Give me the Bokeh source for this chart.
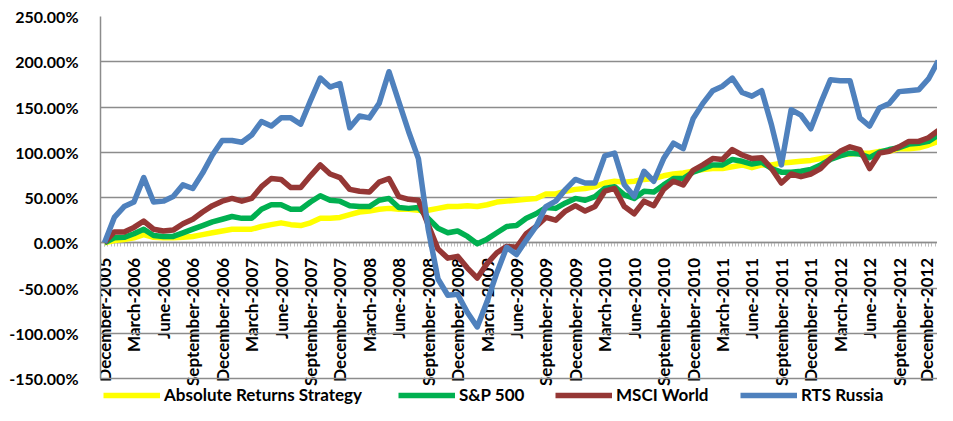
import math
from bokeh.plotting import figure
from bokeh.models import (Range1d, LinearAxis, FixedTicker, PrintfTickFormatter,
                          Legend, LegendItem)
from bokeh.embed import file_html
from bokeh.resources import INLINE

# ---- data (cumulative return, %), monthly Dec-2005 .. Jan-2013 ----
abs_returns = [0, 2.5, 3.5, 5.5, 9, 6, 5.5, 5.5, 6, 7,
               9, 11, 13, 15, 15, 15, 18, 20, 22, 20,
               19, 22, 27, 27, 28, 31, 34, 35, 37, 38,
               37, 37, 36, 36, 38, 40, 40, 41, 40, 42,
               45, 46, 47, 48, 49, 54, 54, 57, 59, 60,
               62, 66, 68, 67, 68, 70, 71, 74, 76, 77,
               79, 81, 82, 82, 84, 86, 83, 86, 86, 88,
               89, 90, 91, 93, 95, 97, 98, 99, 99, 101,
               101, 104, 104, 105, 108, 112]
sp500 = [0, 5.5, 6, 10, 15, 8, 7, 7, 11, 15,
         19, 23, 26, 29, 27, 27, 37, 42, 42, 37,
         37, 45, 52, 47, 46, 41, 40, 40, 47, 49,
         39, 38, 39, 27, 16, 11, 13, 7, -1, 4,
         11, 18, 19, 27, 32, 39, 38, 44, 49, 47,
         51, 60, 62, 53, 49, 57, 56, 64, 71, 71,
         78, 82, 86, 86, 92, 90, 87, 89, 82, 78,
         78, 79, 81, 86, 92, 96, 99, 98, 94, 100,
         103, 105, 109, 110, 112, 119]
msci_world = [0, 12, 12, 17, 24, 15, 13, 14, 21, 26,
              34, 41, 46, 49, 46, 49, 62, 71, 70, 61,
              61, 74, 86, 76, 72, 59, 57, 56, 67, 71,
              51, 48, 47, 20, -7, -17, -15, -28, -39, -23,
              -11, -4, -5, 10, 18, 28, 25, 35, 41, 35,
              40, 57, 60, 40, 32, 46, 41, 59, 68, 64,
              80, 86, 93, 92, 103, 97, 93, 94, 82, 66,
              76, 73, 76, 82, 93, 101, 106, 103, 82, 99,
              101, 106, 112, 112, 116, 124]
rts_russia = [0, 28, 40, 45, 72, 45, 46, 51, 64, 60,
              77, 97, 113, 113, 111, 119, 134, 129, 138, 138,
              131, 157, 182, 172, 176, 127, 140, 138, 154, 189,
              156, 123, 93, 15, -40, -58, -57, -77, -93, -65,
              -33, -5, -13, 3, 18, 40, 46, 59, 70, 66,
              66, 96, 99, 64, 51, 79, 68, 93, 110, 104,
              137, 154, 168, 173, 182, 166, 162, 168, 130, 86,
              147, 141, 126, 154, 180, 179, 179, 138, 129, 149,
              154, 167, 168, 169, 181, 201]

series_names = ["Absolute Returns Strategy", "S&P 500", "MSCI World", "RTS Russia"]
series_colors = ["#FFFF00", "#00B050", "#953735", "#4F81BD"]

tick_labels = ["December-2005", "March-2006", "June-2006", "September-2006",
               "December-2006", "March-2007", "June-2007", "September-2007",
               "December-2007", "March-2008", "June-2008", "September-2008",
               "December-2008", "March-2009", "June-2009", "September-2009",
               "December-2009", "March-2010", "June-2010", "September-2010",
               "December-2010", "March-2011", "June-2011", "September-2011",
               "December-2011", "March-2012", "June-2012", "September-2012",
               "December-2012"]
y_ticks = [-150, -100, -50, 0, 50, 100, 150, 200, 250]

month_index = list(range(len(rts_russia)))
major_ticks = [3 * k for k in range(len(tick_labels))]
minor_ticks = [k / 3 for k in range(0, 3 * len(rts_russia))]

FONT = "Lato"

# frame runs to the bottom of the canvas so the crossing axis labels and the
# legend are not clipped; the value axis itself is bounded to -150..250
p = figure(width=937, height=405, output_backend="svg", toolbar_location=None,
           x_range=Range1d(-0.408, 84.92), y_range=Range1d(-179.8, 250),
           x_axis_type=None, min_border_left=100, min_border_right=0,
           min_border_top=16, min_border_bottom=0)
p.outline_line_color = None
p.background_fill_color = "white"
p.border_fill_color = "white"

# y axis
p.yaxis.bounds = (y_ticks[0], y_ticks[-1])
p.yaxis.ticker = FixedTicker(ticks=y_ticks)
p.yaxis.formatter = PrintfTickFormatter(format="%.2f%%")
p.yaxis.major_tick_line_color = None
p.yaxis.minor_tick_line_color = None
p.yaxis.axis_line_color = "#8c8c8c"
p.yaxis.axis_line_width = 1.5
p.yaxis.major_label_standoff = 16
p.yaxis.major_label_text_font = FONT
p.yaxis.major_label_text_font_style = "bold"
p.yaxis.major_label_text_font_size = "16px"
p.yaxis.major_label_text_color = "black"
p.ygrid.grid_line_color = "#8c8c8c"
p.ygrid.grid_line_width = 1.5
p.xgrid.visible = False

# category axis crossing at 0 (drawn beneath the series lines)
xaxis = LinearAxis(fixed_location=0, level="underlay",
                   ticker=FixedTicker(ticks=major_ticks, minor_ticks=minor_ticks),
                   major_label_overrides={t: lab for t, lab in zip(major_ticks, tick_labels)},
                   major_label_orientation=math.pi / 2)
xaxis.axis_line_color = "#a6a6a6"
xaxis.axis_line_width = 1.5
xaxis.major_tick_in = 0
xaxis.major_tick_out = 4
xaxis.minor_tick_in = 0
xaxis.minor_tick_out = 4
xaxis.major_tick_line_color = "#bfbfbf"
xaxis.minor_tick_line_color = "#bfbfbf"
xaxis.major_label_standoff = 11
xaxis.major_label_text_font = FONT
xaxis.major_label_text_font_style = "bold"
xaxis.major_label_text_font_size = "17px"
xaxis.major_label_text_color = "black"
p.add_layout(xaxis, "below")

# one legend box per series, so each entry sits where the reference puts it
legend_offsets = [3, 298, 455, 640]
for name, ys, col, off in zip(series_names,
                              [abs_returns, sp500, msci_world, rts_russia],
                              series_colors, legend_offsets):
    r = p.line(month_index, ys, line_color=col, line_width=5.5, line_join="round")
    lg = Legend(items=[LegendItem(label=name, renderers=[r])], location=(off, 0),
                glyph_width=57, glyph_height=16, label_height=16, label_standoff=4,
                padding=0, margin=0, border_line_color=None, background_fill_alpha=0,
                label_text_font=FONT, label_text_font_style="bold",
                label_text_font_size="17px", label_text_color="black")
    p.add_layout(lg, "center")

open("out.html", "w").write(file_html(p, INLINE))
